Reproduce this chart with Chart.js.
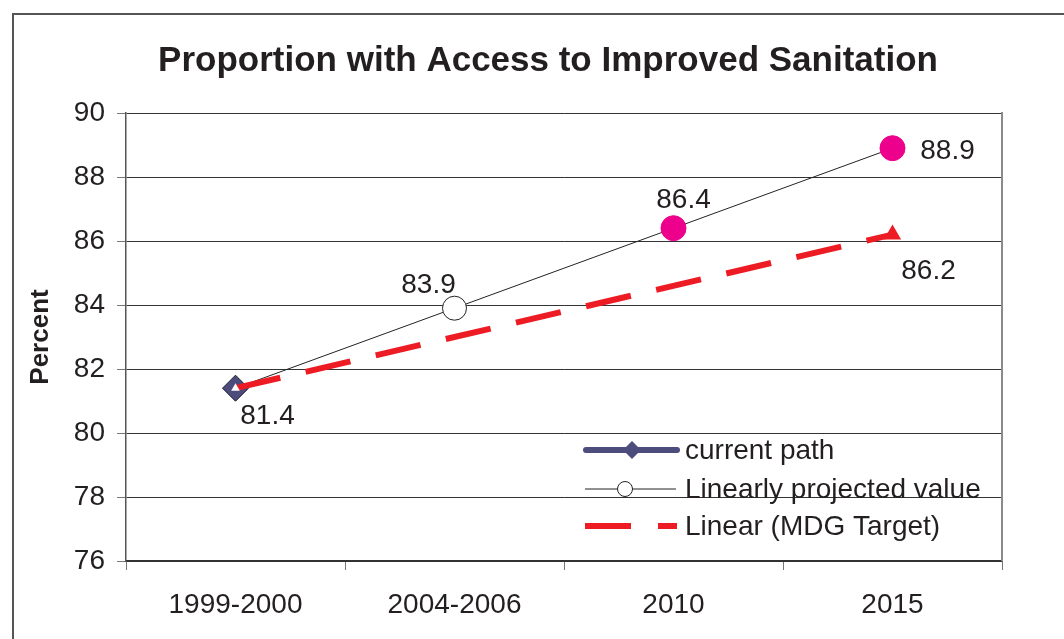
<!DOCTYPE html>
<html lang="en">
  <head>
    <meta charset="utf-8" />
    <title>Proportion with Access to Improved Sanitation</title>
    <script src="https://cdn.jsdelivr.net/npm/chart.js"></script>
    <style>
      html,
      body {
        margin: 0;
        padding: 0;
        background: #fff;
        overflow: hidden;
      }
      .frame {
        position: absolute;
        left: 12px;
        top: 13px;
        width: 1080px;
        height: 660px;
        border: 2px solid #555;
        box-sizing: border-box;
      }
      .chart-box {
        position: absolute;
        left: 0;
        top: 0;
        width: 1064px;
        height: 639px;
      }
    </style>
  </head>
  <body>
    <div class="frame"></div>
    <div class="chart-box"><canvas id="sanChart"></canvas></div>
    <script>
      const categories = ["1999-2000", "2004-2006", "2010", "2015"];
      const currentPath = [81.4, null, null, null];
      const projectedValue = [81.4, 83.9, 86.4, 88.9];
      const mdgTarget = [81.4, null, null, 86.2];
      const yMin = 76;
      const yMax = 90;
      const yStep = 2;

      const FONT = "'Liberation Sans', Arial, sans-serif";
      const INK = "#231f20";
      const NAVY = "#4d4d7d";
      const MAGENTA = "#ec008c";
      const RED = "#ed1c24";

      // value labels: dataset index, point index, offset from the point
      const valueLabels = [
        { ds: 0, i: 0, dx: 32, dy: 28 },
        { ds: 1, i: 1, dx: -26, dy: -23 },
        { ds: 1, i: 2, dx: 10, dy: -28 },
        { ds: 1, i: 3, dx: 55, dy: 3 },
        { ds: 2, i: 3, dx: 36, dy: 37 },
      ];

      // title, y title, right border, value labels and legend
      const decorPlugin = {
        id: "decor",
        afterDatasetsDraw(chart) {
          const ctx = chart.ctx;
          const area = chart.chartArea;
          ctx.save();

          ctx.strokeStyle = "#8a8a8a";
          ctx.lineWidth = 2;
          ctx.beginPath();
          ctx.moveTo(area.right, area.top - 1);
          ctx.lineTo(area.right, area.bottom);
          ctx.stroke();

          ctx.fillStyle = INK;
          ctx.font = "bold 35px " + FONT;
          ctx.textAlign = "center";
          ctx.textBaseline = "middle";
          ctx.fillText("Proportion with Access to Improved Sanitation", 548, 61);

          ctx.save();
          ctx.translate(41, (area.top + area.bottom) / 2);
          ctx.rotate(-Math.PI / 2);
          ctx.font = "bold 26px " + FONT;
          ctx.fillText("Percent", 0, 0);
          ctx.restore();

          ctx.font = "28px " + FONT;
          valueLabels.forEach((l) => {
            const pt = chart.getDatasetMeta(l.ds).data[l.i];
            const v = chart.data.datasets[l.ds].data[l.i];
            ctx.fillText(v.toFixed(1), pt.x + l.dx, pt.y + l.dy);
          });

          // legend
          const x0 = 583;
          const x1 = 680;
          const xm = 632;
          const rows = [450, 489, 526];
          ctx.textAlign = "left";
          const ds = chart.data.datasets;

          ctx.strokeStyle = ds[0].borderColor;
          ctx.lineWidth = 6;
          ctx.lineCap = "round";
          ctx.beginPath();
          ctx.moveTo(x0 + 3, rows[0]);
          ctx.lineTo(x1 - 3, rows[0]);
          ctx.stroke();
          ctx.lineCap = "butt";
          ctx.fillStyle = ds[0].pointBackgroundColor;
          ctx.beginPath();
          ctx.moveTo(xm, rows[0] - 9);
          ctx.lineTo(xm + 9, rows[0]);
          ctx.lineTo(xm, rows[0] + 9);
          ctx.lineTo(xm - 9, rows[0]);
          ctx.closePath();
          ctx.fill();

          ctx.strokeStyle = "#222";
          ctx.lineWidth = 1;
          ctx.beginPath();
          ctx.moveTo(x0 + 2, rows[1]);
          ctx.lineTo(x1 - 4, rows[1]);
          ctx.stroke();
          ctx.fillStyle = "#fff";
          ctx.beginPath();
          ctx.arc(xm - 7, rows[1], 7.5, 0, Math.PI * 2);
          ctx.fill();
          ctx.stroke();

          ctx.strokeStyle = ds[2].borderColor;
          ctx.lineWidth = 6;
          ctx.beginPath();
          ctx.moveTo(x0 + 2, rows[2]);
          ctx.lineTo(x0 + 48, rows[2]);
          ctx.moveTo(x0 + 75, rows[2]);
          ctx.lineTo(x0 + 94, rows[2]);
          ctx.stroke();

          ctx.fillStyle = INK;
          ctx.font = "28px " + FONT;
          ds.forEach((d, k) => ctx.fillText(d.label, 685, rows[k] + 1));

          ctx.restore();
        },
      };

      new Chart(document.getElementById("sanChart"), {
        type: "line",
        data: {
          labels: categories,
          datasets: [
            {
              label: "current path",
              data: currentPath,
              order: 1,
              borderColor: NAVY,
              borderWidth: 6,
              pointStyle: "rectRot",
              pointRadius: 13,
              pointBackgroundColor: NAVY,
              pointBorderColor: "#1a1a2e",
              pointBorderWidth: 1,
            },
            {
              label: "Linearly projected value",
              data: projectedValue,
              order: 2,
              borderColor: "#222",
              borderWidth: 1,
              pointStyle: "circle",
              pointRadius: [0, 12, 12.5, 12.5],
              pointBackgroundColor: ["#fff", "#fff", MAGENTA, MAGENTA],
              pointBorderColor: ["#222", "#222", MAGENTA, MAGENTA],
              pointBorderWidth: 1,
            },
            {
              label: "Linear (MDG Target)",
              data: mdgTarget,
              order: 0,
              spanGaps: true,
              borderColor: RED,
              borderWidth: 6,
              borderDash: [46, 26],
              pointStyle: "triangle",
              pointRadius: [5, 10, 10, 10],
              pointBackgroundColor: ["#fff", RED, RED, RED],
              pointBorderColor: ["#fff", RED, RED, RED],
              pointBorderWidth: 0,
            },
          ],
        },
        options: {
          responsive: true,
          maintainAspectRatio: false,
          animation: false,
          events: [],
          layout: { padding: { top: 113, right: 62, left: 0, bottom: 0 } },
          plugins: {
            legend: { display: false },
            title: { display: false },
            tooltip: { enabled: false },
          },
          scales: {
            x: {
              offset: true,
              grid: {
                offset: true,
                drawOnChartArea: false,
                drawTicks: true,
                tickLength: 9,
                color: "#777",
              },
              border: { color: "#333", width: 1.5 },
              ticks: {
                color: INK,
                font: { family: FONT, size: 28 },
                padding: 18,
                maxRotation: 0,
              },
              afterFit: (s) => {
                s.height = 78;
              },
            },
            y: {
              min: yMin,
              max: yMax,
              ticks: {
                stepSize: yStep,
                color: INK,
                font: { family: FONT, size: 28 },
                padding: 12,
              },
              grid: {
                color: "#333",
                lineWidth: 1,
                tickLength: 9,
                tickColor: "#777",
              },
              border: { color: "#555", width: 1.5 },
              afterFit: (s) => {
                s.width = 126;
              },
            },
          },
        },
        plugins: [decorPlugin],
      });
    </script>
  </body>
</html>
